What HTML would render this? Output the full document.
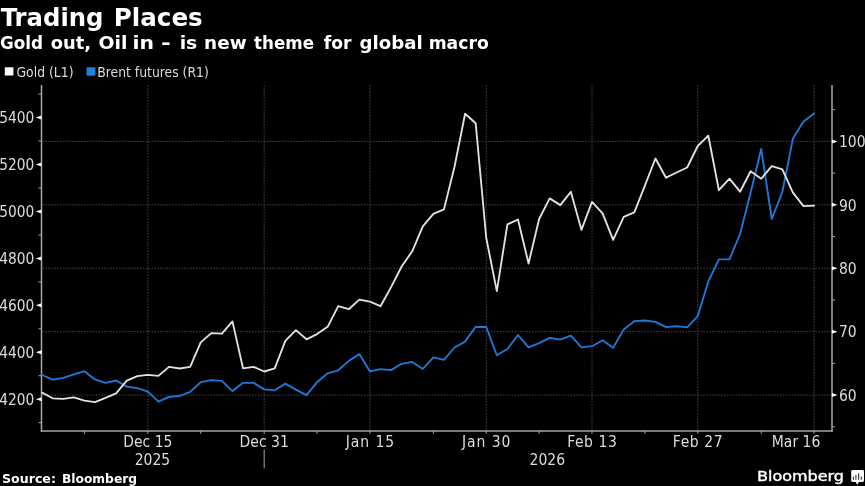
<!DOCTYPE html>
<html><head><meta charset="utf-8"><title>Trading Places</title>
<style>html,body{margin:0;padding:0;background:#000;width:865px;height:486px;overflow:hidden}svg{display:block;will-change:transform}</style>
</head><body>
<svg width="865" height="486" viewBox="0 0 865 486"><rect x="0" y="0" width="865" height="486" fill="#000"/>
<line x1="42.50" y1="395.10" x2="832.00" y2="395.10" stroke="#4a4a4a" stroke-width="1" stroke-dasharray="1.5 1.45"/>
<line x1="42.50" y1="331.68" x2="832.00" y2="331.68" stroke="#4a4a4a" stroke-width="1" stroke-dasharray="1.5 1.45"/>
<line x1="42.50" y1="268.25" x2="832.00" y2="268.25" stroke="#4a4a4a" stroke-width="1" stroke-dasharray="1.5 1.45"/>
<line x1="42.50" y1="204.83" x2="832.00" y2="204.83" stroke="#4a4a4a" stroke-width="1" stroke-dasharray="1.5 1.45"/>
<line x1="42.50" y1="141.40" x2="832.00" y2="141.40" stroke="#4a4a4a" stroke-width="1" stroke-dasharray="1.5 1.45"/>
<line x1="147.85" y1="85.50" x2="147.85" y2="431.00" stroke="#4a4a4a" stroke-width="1" stroke-dasharray="1.5 1.45"/>
<line x1="264.18" y1="85.50" x2="264.18" y2="431.00" stroke="#4a4a4a" stroke-width="1" stroke-dasharray="1.5 1.45"/>
<line x1="369.93" y1="85.50" x2="369.93" y2="431.00" stroke="#4a4a4a" stroke-width="1" stroke-dasharray="1.5 1.45"/>
<line x1="486.25" y1="85.50" x2="486.25" y2="431.00" stroke="#4a4a4a" stroke-width="1" stroke-dasharray="1.5 1.45"/>
<line x1="592.00" y1="85.50" x2="592.00" y2="431.00" stroke="#4a4a4a" stroke-width="1" stroke-dasharray="1.5 1.45"/>
<line x1="697.75" y1="85.50" x2="697.75" y2="431.00" stroke="#4a4a4a" stroke-width="1" stroke-dasharray="1.5 1.45"/>
<line x1="814.07" y1="85.50" x2="814.07" y2="431.00" stroke="#4a4a4a" stroke-width="1" stroke-dasharray="1.5 1.45"/>
<line x1="41.5" y1="85.0" x2="41.5" y2="431.75" stroke="#a6a6a6" stroke-width="1.5"/>
<line x1="832.0" y1="85.0" x2="832.0" y2="431.75" stroke="#a6a6a6" stroke-width="1.5"/>
<line x1="40.75" y1="431.0" x2="832.75" y2="431.0" stroke="#a6a6a6" stroke-width="1.5"/>
<line x1="147.85" y1="431.0" x2="147.85" y2="433.80" stroke="#a6a6a6" stroke-width="1"/>
<line x1="264.18" y1="431.0" x2="264.18" y2="433.80" stroke="#a6a6a6" stroke-width="1"/>
<line x1="369.93" y1="431.0" x2="369.93" y2="433.80" stroke="#a6a6a6" stroke-width="1"/>
<line x1="486.25" y1="431.0" x2="486.25" y2="433.80" stroke="#a6a6a6" stroke-width="1"/>
<line x1="592.00" y1="431.0" x2="592.00" y2="433.80" stroke="#a6a6a6" stroke-width="1"/>
<line x1="697.75" y1="431.0" x2="697.75" y2="433.80" stroke="#a6a6a6" stroke-width="1"/>
<line x1="814.07" y1="431.0" x2="814.07" y2="433.80" stroke="#a6a6a6" stroke-width="1"/>
<line x1="84.40" y1="431.0" x2="84.40" y2="433.80" stroke="#a6a6a6" stroke-width="1"/>
<line x1="200.72" y1="431.0" x2="200.72" y2="433.80" stroke="#a6a6a6" stroke-width="1"/>
<line x1="317.05" y1="431.0" x2="317.05" y2="433.80" stroke="#a6a6a6" stroke-width="1"/>
<line x1="433.38" y1="431.0" x2="433.38" y2="433.80" stroke="#a6a6a6" stroke-width="1"/>
<line x1="539.12" y1="431.0" x2="539.12" y2="433.80" stroke="#a6a6a6" stroke-width="1"/>
<line x1="644.88" y1="431.0" x2="644.88" y2="433.80" stroke="#a6a6a6" stroke-width="1"/>
<line x1="761.20" y1="431.0" x2="761.20" y2="433.80" stroke="#a6a6a6" stroke-width="1"/>
<line x1="264.18" y1="449.5" x2="264.18" y2="468.3" stroke="#a6a6a6" stroke-width="1"/>
<line x1="38.50" y1="422.67" x2="41.50" y2="422.67" stroke="#a6a6a6" stroke-width="1"/>
<path d="M41.50 397.20 L35.90 399.20 L41.50 401.20 Z" fill="#fff"/>
<line x1="38.50" y1="375.73" x2="41.50" y2="375.73" stroke="#a6a6a6" stroke-width="1"/>
<path d="M41.50 350.27 L35.90 352.27 L41.50 354.27 Z" fill="#fff"/>
<line x1="38.50" y1="328.80" x2="41.50" y2="328.80" stroke="#a6a6a6" stroke-width="1"/>
<path d="M41.50 303.33 L35.90 305.33 L41.50 307.33 Z" fill="#fff"/>
<line x1="38.50" y1="281.87" x2="41.50" y2="281.87" stroke="#a6a6a6" stroke-width="1"/>
<path d="M41.50 256.40 L35.90 258.40 L41.50 260.40 Z" fill="#fff"/>
<line x1="38.50" y1="234.93" x2="41.50" y2="234.93" stroke="#a6a6a6" stroke-width="1"/>
<path d="M41.50 209.46 L35.90 211.46 L41.50 213.46 Z" fill="#fff"/>
<line x1="38.50" y1="188.00" x2="41.50" y2="188.00" stroke="#a6a6a6" stroke-width="1"/>
<path d="M41.50 162.53 L35.90 164.53 L41.50 166.53 Z" fill="#fff"/>
<line x1="38.50" y1="141.06" x2="41.50" y2="141.06" stroke="#a6a6a6" stroke-width="1"/>
<path d="M41.50 115.60 L35.90 117.60 L41.50 119.60 Z" fill="#fff"/>
<line x1="38.50" y1="94.13" x2="41.50" y2="94.13" stroke="#a6a6a6" stroke-width="1"/>
<line x1="832.00" y1="426.81" x2="835.00" y2="426.81" stroke="#a6a6a6" stroke-width="1"/>
<path d="M832.00 393.10 L837.50 395.10 L832.00 397.10 Z" fill="#fff"/>
<line x1="832.00" y1="363.39" x2="835.00" y2="363.39" stroke="#a6a6a6" stroke-width="1"/>
<path d="M832.00 329.68 L837.50 331.68 L832.00 333.68 Z" fill="#fff"/>
<line x1="832.00" y1="299.96" x2="835.00" y2="299.96" stroke="#a6a6a6" stroke-width="1"/>
<path d="M832.00 266.25 L837.50 268.25 L832.00 270.25 Z" fill="#fff"/>
<line x1="832.00" y1="236.54" x2="835.00" y2="236.54" stroke="#a6a6a6" stroke-width="1"/>
<path d="M832.00 202.83 L837.50 204.83 L832.00 206.83 Z" fill="#fff"/>
<line x1="832.00" y1="173.11" x2="835.00" y2="173.11" stroke="#a6a6a6" stroke-width="1"/>
<path d="M832.00 139.40 L837.50 141.40 L832.00 143.40 Z" fill="#fff"/>
<line x1="832.00" y1="109.69" x2="835.00" y2="109.69" stroke="#a6a6a6" stroke-width="1"/>
<polyline points="42.10,375.00 52.67,379.60 63.25,377.80 73.83,374.40 84.40,371.20 94.97,379.40 105.55,382.90 116.12,380.50 126.70,386.60 137.28,388.20 147.85,391.60 158.42,401.70 169.00,396.80 179.57,396.00 190.15,391.90 200.72,382.20 211.30,380.10 221.87,380.80 232.45,391.10 243.02,382.80 253.60,382.80 264.18,389.40 274.75,390.30 285.32,383.60 295.90,389.60 306.48,395.10 317.05,382.20 327.62,373.30 338.20,370.30 348.77,360.90 359.35,354.10 369.93,371.40 380.50,369.20 391.07,370.10 401.65,363.80 412.23,361.90 422.80,368.90 433.38,357.40 443.95,359.90 454.52,347.50 465.10,341.60 475.68,326.80 486.25,327.00 496.82,355.20 507.40,349.00 517.97,335.00 528.55,347.30 539.12,343.20 549.70,337.90 560.27,339.60 570.85,335.70 581.42,347.30 592.00,346.20 602.57,340.30 613.15,347.80 623.73,329.40 634.30,321.20 644.88,320.50 655.45,321.80 666.02,327.10 676.60,326.10 687.17,327.30 697.75,316.20 708.32,281.50 718.90,259.30 729.48,259.30 740.05,234.00 750.62,192.80 761.20,149.00 771.77,219.00 782.35,192.00 792.92,138.60 803.50,121.60 814.07,113.50" fill="none" stroke="#1c7ad9" stroke-width="1.85" stroke-linejoin="round" stroke-linecap="round"/>
<polyline points="42.10,392.60 52.67,398.30 63.25,398.90 73.83,397.30 84.40,400.60 94.97,402.20 105.55,397.90 116.12,393.40 126.70,380.60 137.28,376.10 147.85,374.90 158.42,375.90 169.00,366.90 179.57,368.50 190.15,366.90 200.72,342.40 211.30,333.10 221.87,333.70 232.45,321.40 243.02,368.30 253.60,366.90 264.18,371.50 274.75,368.30 285.32,340.90 295.90,330.10 306.48,339.30 317.05,334.10 327.62,326.80 338.20,306.20 348.77,309.20 359.35,299.60 369.93,301.70 380.50,306.20 391.07,287.10 401.65,266.50 412.23,251.30 422.80,226.40 433.38,213.90 443.95,209.40 454.52,166.80 465.10,113.80 475.68,123.30 486.25,238.00 496.82,291.10 507.40,224.40 517.97,219.50 528.55,263.50 539.12,219.00 549.70,198.40 560.27,205.10 570.85,191.80 581.42,229.80 592.00,201.90 602.57,213.40 613.15,239.90 623.73,216.90 634.30,212.30 644.88,185.60 655.45,158.50 666.02,177.70 676.60,172.50 687.17,167.50 697.75,146.00 708.32,135.70 718.90,190.20 729.48,178.70 740.05,191.70 750.62,171.30 761.20,178.70 771.77,166.10 782.35,169.40 792.92,192.60 803.50,206.10 814.07,205.60" fill="none" stroke="#e2e2e2" stroke-width="1.85" stroke-linejoin="round" stroke-linecap="round"/>
<text x="34.2" y="405.00" text-anchor="end" textLength="35" lengthAdjust="spacingAndGlyphs" style="font-family:'DejaVu Sans Condensed','DejaVu Sans',sans-serif;font-stretch:condensed;font-size:16px" fill="#dcdcdc">4200</text>
<text x="34.2" y="358.07" text-anchor="end" textLength="35" lengthAdjust="spacingAndGlyphs" style="font-family:'DejaVu Sans Condensed','DejaVu Sans',sans-serif;font-stretch:condensed;font-size:16px" fill="#dcdcdc">4400</text>
<text x="34.2" y="311.13" text-anchor="end" textLength="35" lengthAdjust="spacingAndGlyphs" style="font-family:'DejaVu Sans Condensed','DejaVu Sans',sans-serif;font-stretch:condensed;font-size:16px" fill="#dcdcdc">4600</text>
<text x="34.2" y="264.20" text-anchor="end" textLength="35" lengthAdjust="spacingAndGlyphs" style="font-family:'DejaVu Sans Condensed','DejaVu Sans',sans-serif;font-stretch:condensed;font-size:16px" fill="#dcdcdc">4800</text>
<text x="34.2" y="217.26" text-anchor="end" textLength="35" lengthAdjust="spacingAndGlyphs" style="font-family:'DejaVu Sans Condensed','DejaVu Sans',sans-serif;font-stretch:condensed;font-size:16px" fill="#dcdcdc">5000</text>
<text x="34.2" y="170.33" text-anchor="end" textLength="35" lengthAdjust="spacingAndGlyphs" style="font-family:'DejaVu Sans Condensed','DejaVu Sans',sans-serif;font-stretch:condensed;font-size:16px" fill="#dcdcdc">5200</text>
<text x="34.2" y="123.40" text-anchor="end" textLength="35" lengthAdjust="spacingAndGlyphs" style="font-family:'DejaVu Sans Condensed','DejaVu Sans',sans-serif;font-stretch:condensed;font-size:16px" fill="#dcdcdc">5400</text>
<text x="839" y="400.90" style="font-family:'DejaVu Sans Condensed','DejaVu Sans',sans-serif;font-stretch:condensed;font-size:15.5px" fill="#dcdcdc">60</text>
<text x="839" y="337.48" style="font-family:'DejaVu Sans Condensed','DejaVu Sans',sans-serif;font-stretch:condensed;font-size:15.5px" fill="#dcdcdc">70</text>
<text x="839" y="274.05" style="font-family:'DejaVu Sans Condensed','DejaVu Sans',sans-serif;font-stretch:condensed;font-size:15.5px" fill="#dcdcdc">80</text>
<text x="839" y="210.63" style="font-family:'DejaVu Sans Condensed','DejaVu Sans',sans-serif;font-stretch:condensed;font-size:15.5px" fill="#dcdcdc">90</text>
<text x="839" y="147.20" style="font-family:'DejaVu Sans Condensed','DejaVu Sans',sans-serif;font-stretch:condensed;font-size:15.5px" fill="#dcdcdc">100</text>
<text x="147.85" y="446.6" text-anchor="middle" style="font-family:'DejaVu Sans Condensed','DejaVu Sans',sans-serif;font-stretch:condensed;font-size:15.5px" fill="#dcdcdc">Dec 15</text>
<text x="264.18" y="446.6" text-anchor="middle" style="font-family:'DejaVu Sans Condensed','DejaVu Sans',sans-serif;font-stretch:condensed;font-size:15.5px" fill="#dcdcdc">Dec 31</text>
<text x="369.93" y="446.6" text-anchor="middle" textLength="48.6" lengthAdjust="spacing" style="font-family:'DejaVu Sans Condensed','DejaVu Sans',sans-serif;font-stretch:condensed;font-size:15.5px" fill="#dcdcdc">Jan 15</text>
<text x="486.25" y="446.6" text-anchor="middle" textLength="48.4" lengthAdjust="spacing" style="font-family:'DejaVu Sans Condensed','DejaVu Sans',sans-serif;font-stretch:condensed;font-size:15.5px" fill="#dcdcdc">Jan 30</text>
<text x="592.00" y="446.6" text-anchor="middle" textLength="49.5" lengthAdjust="spacing" style="font-family:'DejaVu Sans Condensed','DejaVu Sans',sans-serif;font-stretch:condensed;font-size:15.5px" fill="#dcdcdc">Feb 13</text>
<text x="697.75" y="446.6" text-anchor="middle" textLength="49.8" lengthAdjust="spacing" style="font-family:'DejaVu Sans Condensed','DejaVu Sans',sans-serif;font-stretch:condensed;font-size:15.5px" fill="#dcdcdc">Feb 27</text>
<text x="820.3" y="446.6" text-anchor="end" style="font-family:'DejaVu Sans Condensed','DejaVu Sans',sans-serif;font-stretch:condensed;font-size:15.5px" fill="#dcdcdc">Mar 16</text>
<text x="152.4" y="464.7" text-anchor="middle" style="font-family:'DejaVu Sans Condensed','DejaVu Sans',sans-serif;font-stretch:condensed;font-size:15.5px" fill="#dcdcdc">2025</text>
<text x="547.3" y="464.7" text-anchor="middle" style="font-family:'DejaVu Sans Condensed','DejaVu Sans',sans-serif;font-stretch:condensed;font-size:15.5px" fill="#dcdcdc">2026</text>
<text x="0.70" y="25.8" textLength="102.73" lengthAdjust="spacingAndGlyphs" style="font-family:'DejaVu Sans',sans-serif;font-weight:bold;font-size:24.6px" fill="#fff">Trading</text>
<text x="113.75" y="25.8" textLength="88.95" lengthAdjust="spacingAndGlyphs" style="font-family:'DejaVu Sans',sans-serif;font-weight:bold;font-size:24.6px" fill="#fff">Places</text>
<text x="-0.09" y="48.8" textLength="43.07" lengthAdjust="spacingAndGlyphs" style="font-family:'DejaVu Sans',sans-serif;font-weight:bold;font-size:18.28px" fill="#fff">Gold</text>
<text x="50.77" y="48.8" textLength="40.33" lengthAdjust="spacingAndGlyphs" style="font-family:'DejaVu Sans',sans-serif;font-weight:bold;font-size:18.28px" fill="#fff">out,</text>
<text x="98.53" y="48.8" textLength="28.88" lengthAdjust="spacingAndGlyphs" style="font-family:'DejaVu Sans',sans-serif;font-weight:bold;font-size:18.28px" fill="#fff">Oil</text>
<text x="132.53" y="48.8" textLength="21.46" lengthAdjust="spacingAndGlyphs" style="font-family:'DejaVu Sans',sans-serif;font-weight:bold;font-size:18.28px" fill="#fff">in</text>
<text x="160.91" y="48.8" textLength="9.77" lengthAdjust="spacingAndGlyphs" style="font-family:'DejaVu Sans',sans-serif;font-weight:bold;font-size:18.28px" fill="#fff">-</text>
<text x="179.65" y="48.8" textLength="17.66" lengthAdjust="spacingAndGlyphs" style="font-family:'DejaVu Sans',sans-serif;font-weight:bold;font-size:18.28px" fill="#fff">is</text>
<text x="204.09" y="48.8" textLength="42.54" lengthAdjust="spacingAndGlyphs" style="font-family:'DejaVu Sans',sans-serif;font-weight:bold;font-size:18.28px" fill="#fff">new</text>
<text x="254.07" y="48.8" textLength="59.96" lengthAdjust="spacingAndGlyphs" style="font-family:'DejaVu Sans',sans-serif;font-weight:bold;font-size:18.28px" fill="#fff">theme</text>
<text x="323.66" y="48.8" textLength="27.75" lengthAdjust="spacingAndGlyphs" style="font-family:'DejaVu Sans',sans-serif;font-weight:bold;font-size:18.28px" fill="#fff">for</text>
<text x="359.55" y="48.8" textLength="63.18" lengthAdjust="spacingAndGlyphs" style="font-family:'DejaVu Sans',sans-serif;font-weight:bold;font-size:18.28px" fill="#fff">global</text>
<text x="428.69" y="48.8" textLength="60.02" lengthAdjust="spacingAndGlyphs" style="font-family:'DejaVu Sans',sans-serif;font-weight:bold;font-size:18.28px" fill="#fff">macro</text>
<rect x="4.8" y="67.3" width="8.6" height="8.2" fill="#fff"/>
<text x="16.5" y="77.1" style="font-family:'DejaVu Sans Condensed','DejaVu Sans',sans-serif;font-stretch:condensed;font-size:13.8px" fill="#dcdcdc">Gold (L1)</text>
<rect x="86.6" y="67.3" width="8.8" height="8.4" fill="#1f80e0"/>
<text x="97.2" y="77.1" style="font-family:'DejaVu Sans Condensed','DejaVu Sans',sans-serif;font-stretch:condensed;font-size:13.8px" fill="#dcdcdc">Brent futures (R1)</text>
<text x="2" y="483" style="font-family:'DejaVu Sans',sans-serif;font-weight:bold;font-size:12.6px" fill="#fff">Source:</text>
<text x="62" y="483" textLength="75" lengthAdjust="spacingAndGlyphs" style="font-family:'DejaVu Sans',sans-serif;font-weight:bold;font-size:12.6px" fill="#fff">Bloomberg</text>
<text x="757" y="481.3" textLength="87" lengthAdjust="spacingAndGlyphs" style="font-family:'DejaVu Sans',sans-serif;font-size:14.3px" fill="#fff" stroke="#fff" stroke-width="0.4">Bloomberg</text>
<path d="M852.6 470.1 H862.6 Q864 470.1 864 471.5 V480.6 Q864 482 862.6 482 H858.8 L857.3 484.9 L855.8 482 H852.6 Q851.2 482 851.2 480.6 V471.5 Q851.2 470.1 852.6 470.1 Z" fill="#fff"/>
<rect x="852.85" y="476.7" width="1.1" height="3.10" fill="#333"/>
<rect x="855.35" y="475.0" width="1.1" height="4.80" fill="#333"/>
<rect x="858.05" y="473.2" width="1.1" height="6.60" fill="#333"/>
<rect x="860.75" y="476.5" width="1.1" height="3.30" fill="#333"/></svg>
</body></html>
